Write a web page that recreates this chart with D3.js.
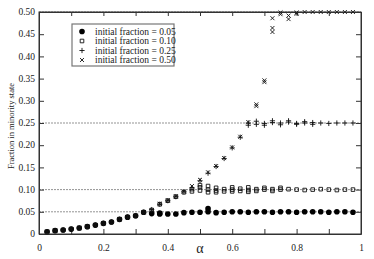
<!DOCTYPE html>
<html>
  <head>
    <script src="https://d3js.org/d3.v7.min.js"></script>
    <style>
      body { margin: 0; background-color: white; }
      svg text { font-family: 'Liberation Serif', 'DejaVu Serif', serif; fill: #222; }
    </style>
  </head>
  <body>
    <svg id="canvas" width="374" height="259"></svg>
    <script>
      // alpha values (x)
      const alphas = [0.025, 0.05, 0.075, 0.1, 0.125, 0.15, 0.175, 0.2, 0.225, 0.25,
        0.275, 0.3, 0.325, 0.35, 0.375, 0.4, 0.425, 0.45, 0.475, 0.5,
        0.525, 0.55, 0.575, 0.6, 0.625, 0.65, 0.675, 0.7, 0.725, 0.75,
        0.775, 0.8, 0.825, 0.85, 0.875, 0.9, 0.925, 0.95, 0.975]

      // fraction in minority state, one run per series
      const frac05 = [0.005, 0.0075, 0.009, 0.011, 0.0135, 0.0165, 0.020, 0.024, 0.027, 0.033,
        0.038, 0.041, 0.049, 0.046, 0.045, 0.045, 0.045, 0.048, 0.049, 0.049,
        0.050, 0.048, 0.049, 0.050, 0.050, 0.049, 0.050, 0.050, 0.049, 0.050,
        0.050, 0.049, 0.050, 0.050, 0.050, 0.049, 0.050, 0.050, 0.049]
      const frac10 = [0.005, 0.0075, 0.009, 0.011, 0.0135, 0.0165, 0.020, 0.024, 0.027, 0.033,
        0.038, 0.041, 0.049, 0.054, 0.067, 0.075, 0.084, 0.094, 0.101, 0.105,
        0.100, 0.098, 0.101, 0.100, 0.102, 0.099, 0.101, 0.100, 0.101, 0.100,
        0.101, 0.100, 0.099, 0.100, 0.101, 0.100, 0.099, 0.100, 0.100]
      const frac25 = [0.005, 0.0075, 0.009, 0.011, 0.0135, 0.0165, 0.020, 0.024, 0.027, 0.033,
        0.038, 0.041, 0.049, 0.055, 0.067, 0.075, 0.084, 0.095, 0.104, 0.120,
        0.137, 0.152, 0.170, 0.194, 0.218, 0.250, 0.247, 0.249, 0.251, 0.250,
        0.252, 0.249, 0.250, 0.251, 0.250, 0.249, 0.250, 0.250, 0.250]
      const frac50 = [0.005, 0.0075, 0.009, 0.011, 0.0135, 0.0165, 0.020, 0.024, 0.027, 0.033,
        0.038, 0.041, 0.049, 0.054, 0.068, 0.076, 0.085, 0.096, 0.108, 0.122,
        0.139, 0.153, 0.171, 0.195, 0.219, 0.252, 0.288, 0.342, 0.455, 0.495,
        0.492, 0.499, 0.500, 0.500, 0.500, 0.500, 0.500, 0.500, 0.500]

      // extra runs where the spread is visible: [alpha, value]
      const extra05 = [[0.525, 0.057], [0.375, 0.047]]
      const extra10 = [[0.475, 0.096], [0.5, 0.110], [0.5, 0.098], [0.525, 0.094], [0.525, 0.108],
        [0.55, 0.104], [0.55, 0.094], [0.575, 0.096], [0.6, 0.105], [0.6, 0.096],
        [0.625, 0.097], [0.65, 0.105], [0.65, 0.095], [0.675, 0.097], [0.7, 0.104],
        [0.725, 0.097], [0.75, 0.104]]
      const extra25 = [[0.65, 0.245], [0.675, 0.254], [0.7, 0.245], [0.725, 0.255], [0.75, 0.246],
        [0.775, 0.255], [0.8, 0.247], [0.825, 0.253], [0.85, 0.247]]
      const extra50 = [[0.675, 0.292], [0.7, 0.346], [0.725, 0.464], [0.725, 0.486],
        [0.75, 0.499], [0.775, 0.484], [0.8, 0.496]]

      const legendLabels = ['initial fraction = 0.05', 'initial fraction = 0.10',
        'initial fraction = 0.25', 'initial fraction = 0.50']
      const refLines = [0.05, 0.10, 0.25, 0.50]
      const yTicks = [0, 0.05, 0.10, 0.15, 0.20, 0.25, 0.30, 0.35, 0.40, 0.45, 0.50]
      const yLabels = ['0', '0.05', '0.10', '0.15', '0.20', '0.25', '0.30', '0.35', '0.40', '0.45', '0.50']
      const xTicks = [0, 0.1, 0.2, 0.3, 0.4, 0.5, 0.6, 0.7, 0.8, 0.9, 1]
      const xLabels = [0, 0.2, 0.4, 0.6, 0.8, 1]

      let margin = { top: 12, right: 13, bottom: 25, left: 39 }
      let svg = d3.select('#canvas')
      let width = +svg.attr('width') - margin.left - margin.right
      let height = +svg.attr('height') - margin.top - margin.bottom
      let g = svg.append('g').attr('transform', `translate(${margin.left}, ${margin.top})`)

      let x = d3.scaleLinear().domain([0, 1]).range([0, width])
      let y = d3.scaleLinear().domain([0, 0.5]).range([height, 0])

      // dotted reference lines
      g.selectAll('.ref').data(refLines).enter().append('line')
        .attr('x1', 0).attr('x2', width)
        .attr('y1', d => y(d)).attr('y2', d => y(d))
        .attr('stroke', '#666').attr('stroke-width', 0.7)
        .attr('stroke-dasharray', '2,1')

      // axes, ticks inward on all sides
      const xFmt = d => xLabels.includes(d) ? String(d) : ''
      const styleAxis = sel => {
        sel.select('.domain').attr('stroke', '#333')
        sel.selectAll('.tick line').attr('stroke', '#333')
        sel.selectAll('text').attr('font-size', 9.5)
          .attr('font-family', "'Liberation Serif', serif").attr('fill', '#222')
      }
      g.append('g')
        .call(d3.axisLeft(y).tickValues(yTicks).tickSizeInner(-5).tickSizeOuter(0).tickFormat('')).call(styleAxis)
      g.append('g').attr('transform', `translate(${width},0)`)
        .call(d3.axisRight(y).tickValues(yTicks).tickSizeInner(-5).tickSizeOuter(0).tickFormat('')).call(styleAxis)
      g.append('g').attr('transform', `translate(0,${height})`)
        .call(d3.axisBottom(x).tickValues(xTicks).tickSizeInner(-5).tickSizeOuter(0).tickPadding(10).tickFormat(xFmt)).call(styleAxis)
      g.append('g')
        .call(d3.axisTop(x).tickValues(xTicks).tickSizeInner(-4).tickSizeOuter(0).tickFormat('')).call(styleAxis)

      // y tick labels
      g.selectAll('.ylab').data(yTicks).enter().append('text')
        .attr('class', 'ylab')
        .attr('x', -4).attr('y', d => y(d)).attr('dy', '0.34em')
        .attr('text-anchor', 'end').attr('font-size', 9.5)
        .text((d, i) => yLabels[i])

      // markers
      const symbols = [
        { type: d3.symbolCircle, size: 25, fill: '#000', stroke: 'none' },
        { type: d3.symbolSquare, size: 13, fill: 'none', stroke: '#111' },
        { type: d3.symbolCross, size: 20, fill: 'none', stroke: '#111', plus: true },
        { type: d3.symbolTimes, size: 12, fill: 'none', stroke: '#111' }
      ]
      const drawMarker = (sel, s) => {
        if (s.plus) {
          sel.append('path').attr('d', 'M-2.6,0H2.6M0,-2.6V2.6')
            .attr('stroke', s.stroke).attr('stroke-width', 0.9).attr('fill', 'none')
        } else {
          sel.append('path').attr('d', d3.symbol(s.type, s.size)())
            .attr('fill', s.fill).attr('stroke', s.stroke).attr('stroke-width', 0.9)
        }
      }

      const series = [
        { vals: frac05, extra: extra05 },
        { vals: frac10, extra: extra10 },
        { vals: frac25, extra: extra25 },
        { vals: frac50, extra: extra50 }
      ]
      const pts = g.append('g')
      series.forEach((s, i) => {
        let data = alphas.map((a, j) => [a, s.vals[j]]).concat(s.extra)
        pts.append('g').selectAll('g').data(data).enter().append('g')
          .attr('transform', d => `translate(${x(d[0])},${y(d[1])})`)
          .each(function () { drawMarker(d3.select(this), symbols[i]) })
      })

      // frame
      g.append('rect').attr('width', width).attr('height', height)
        .attr('fill', 'none').attr('stroke', '#333').attr('stroke-width', 1)

      // legend
      let lg = svg.append('g').attr('transform', 'translate(72,24)')
      lg.append('rect').attr('width', 102).attr('height', 42)
        .attr('fill', 'white').attr('stroke', '#777').attr('stroke-width', 1.2)
      legendLabels.forEach((t, i) => {
        let row = lg.append('g').attr('transform', `translate(10,${7.5 + i * 9.5})`)
        drawMarker(row, symbols[i])
        row.append('text').attr('x', 13).attr('y', 3.3).attr('font-size', 9.5).text(t)
      })

      // axis titles
      svg.append('text')
        .attr('transform', 'translate(14,126) rotate(-90)')
        .attr('text-anchor', 'middle').attr('font-size', 8.5).text('Fraction in minority state')
      svg.append('text')
        .attr('x', margin.left + width / 2).attr('y', 253)
        .attr('text-anchor', 'middle').attr('font-size', 14).text('α')
    </script>
  </body>
</html>
